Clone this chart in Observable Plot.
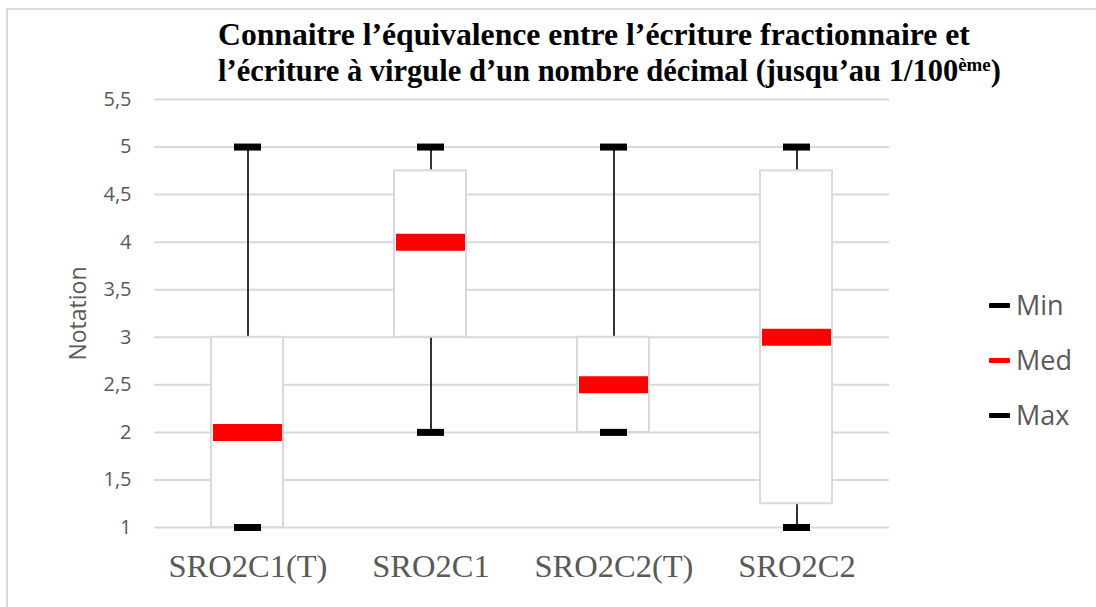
<!DOCTYPE html>
<html><head><meta charset="utf-8">
<script src="https://cdn.jsdelivr.net/npm/d3@7"></script>
<script src="https://cdn.jsdelivr.net/npm/@observablehq/plot@0.6"></script>
<style>
body{margin:0;background:#fff;}
#wrap{position:relative;width:1096px;height:607px;overflow:hidden;background:#fff;}
#border{position:absolute;left:6px;top:8px;width:1200px;height:700px;border:2px solid #d9d9d9;box-sizing:border-box;}
#chart{position:absolute;left:0;top:0;}
.t{position:absolute;left:218px;font-family:"Liberation Serif","Times New Roman",serif;font-weight:bold;color:#000;white-space:nowrap;line-height:1;}
.t sup{font-size:0.62em;vertical-align:0.55em;line-height:0;}
.lg{position:absolute;left:989px;width:21px;height:5px;border-radius:1px;}
.lt{position:absolute;left:1016px;font-family:"Open Sans",sans-serif;font-size:27px;color:#595959;line-height:1;transform:translateY(-52%);}
#chart svg [aria-label="x-axis tick label"] text{font-family:"Liberation Serif","Times New Roman",serif;}
</style></head>
<body>
<div id="wrap">
  <div id="border"></div>
  <div id="chart"></div>
  <div class="t" id="t1" style="top:19px;font-size:31.7px">Connaitre l’équivalence entre l’écriture fractionnaire et</div>
  <div class="t" id="t2" style="top:56px;font-size:30.5px">l’écriture à virgule d’un nombre décimal (jusqu’au 1/100<sup>ème</sup>)</div>
  <div id="legend"></div>
</div>
<script>
const categories = ["SRO2C1(T)", "SRO2C1", "SRO2C2(T)", "SRO2C2"];
const minValues = [1, 2, 2, 1];
const q1Values = [1, 3, 2, 1.25];
const medValues = [2, 4, 2.5, 3];
const q3Values = [3, 4.75, 3, 4.75];
const maxValues = [5, 5, 5, 5];
const yTicks = [1, 1.5, 2, 2.5, 3, 3.5, 4, 4.5, 5, 5.5];
const legendLabels = ["Min", "Med", "Max"];
const legendColors = ["#000000", "#ff0000", "#000000"];

const rows = categories.map((c, i) => ({
  cat: c, min: minValues[i], q1: q1Values[i], med: medValues[i], q3: q3Values[i], max: maxValues[i]
}));

const chart = Plot.plot({
  width: 1096, height: 607,
  marginLeft: 154, marginRight: 207, marginTop: 99, marginBottom: 80,
  style: {background: "transparent", fontFamily: "'Open Sans', sans-serif", color: "#595959"},
  x: {domain: categories, padding: 0, label: null},
  y: {domain: [1, 5.5], label: null},
  marks: [
    Plot.ruleY(yTicks, {stroke: "#d9d9d9", strokeWidth: 2}),
    Plot.ruleX(rows, {x: "cat", y1: "q3", y2: "max", stroke: "#333333", strokeWidth: 2}),
    Plot.ruleX(rows, {x: "cat", y1: "min", y2: "q1", stroke: "#333333", strokeWidth: 2}),
    Plot.barY(rows, {x: "cat", y1: "q1", y2: "q3", fill: "white", stroke: "#d9d9d9", strokeWidth: 2, insetLeft: 55, insetRight: 56}),
    Plot.tickY(rows, {x: "cat", y: "med", stroke: "#ff0000", strokeWidth: 17, insetLeft: 57, insetRight: 57}),
    Plot.tickY(rows, {x: "cat", y: "min", stroke: "#000000", strokeWidth: 7, insetLeft: 78, insetRight: 78}),
    Plot.tickY(rows, {x: "cat", y: "max", stroke: "#000000", strokeWidth: 7, insetLeft: 78, insetRight: 78}),
    Plot.axisY({ticks: yTicks, tickSize: 0, tickPadding: 23, fontSize: 20, fill: "#595959",
      tickFormat: d => String(d).replace(".", ","), label: null}),
    Plot.axisX({tickSize: 0, tickPadding: 26, fontSize: 32.5, fill: "#595959", label: null}),
    Plot.text(["Notation"], {frameAnchor: "left", textAnchor: "middle", rotate: -90, dx: -76, fontSize: 23, fill: "#595959", text: d => d})
  ]
});
document.getElementById("chart").appendChild(chart);

const lg = document.getElementById("legend");
const ys = [305, 360, 415];
legendLabels.forEach((l, i) => {
  const m = document.createElement("div");
  m.className = "lg";
  m.style.top = (ys[i] - 2.5) + "px";
  m.style.background = legendColors[i];
  lg.appendChild(m);
  const t = document.createElement("div");
  t.className = "lt";
  t.style.top = ys[i] + "px";
  t.textContent = l;
  lg.appendChild(t);
});
</script>
</body></html>
